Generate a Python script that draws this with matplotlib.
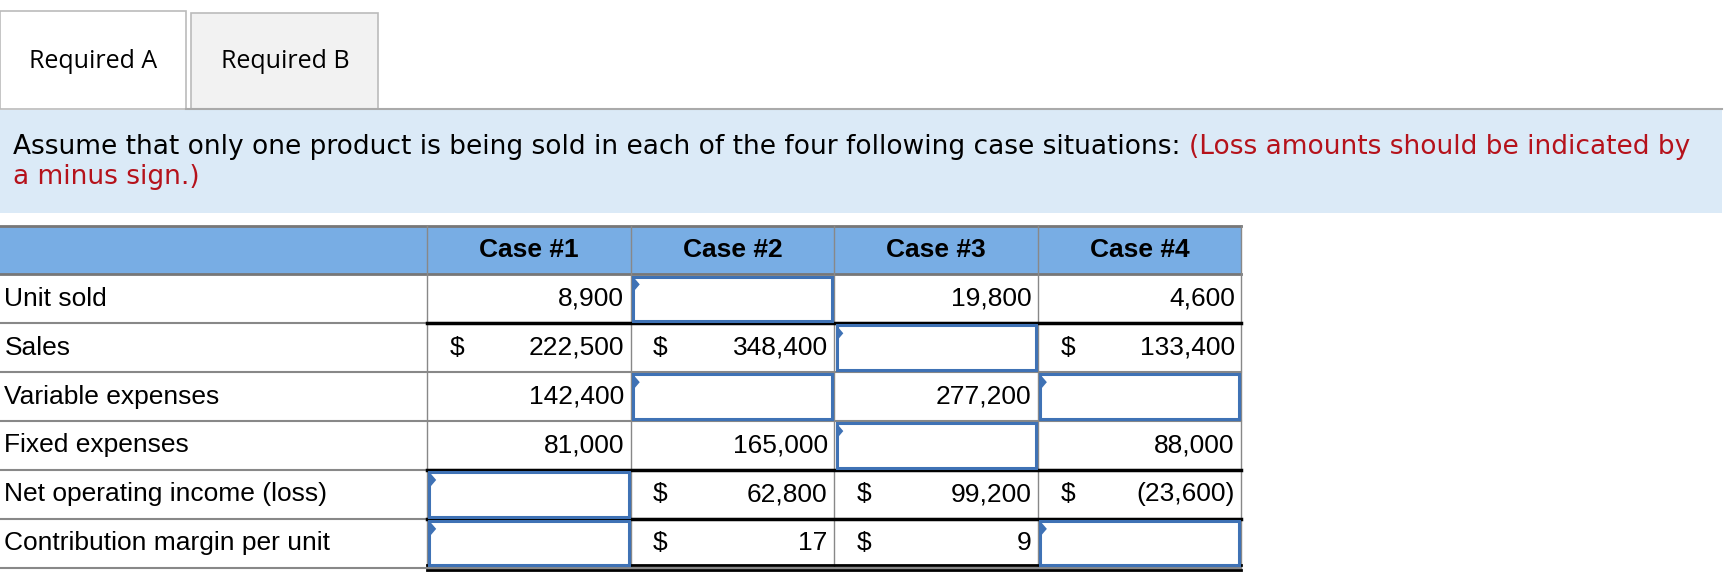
import matplotlib
matplotlib.use("Agg")
import matplotlib.pyplot as plt
from matplotlib.patches import Rectangle, Polygon

tabs = ["Required A", "Required B"]
intro_black = "Assume that only one product is being sold in each of the four following case situations: "
intro_red1 = "(Loss amounts should be indicated by"
intro_red2 = "a minus sign.)"
columns = ["Case #1", "Case #2", "Case #3", "Case #4"]
row_labels = ["Unit sold", "Sales", "Variable expenses", "Fixed expenses",
              "Net operating income (loss)", "Contribution margin per unit"]
case1 = ["8,900", "222,500", "142,400", "81,000", None, None]
case2 = [None, "348,400", None, "165,000", "62,800", "17"]
case3 = ["19,800", None, "277,200", None, "99,200", "9"]
case4 = ["4,600", "133,400", None, "88,000", "(23,600)", None]
dollar_rows = [1, 4, 5]

W, H = 1545, 518
fig = plt.figure(figsize=(17.28, 5.8), dpi=100)
ax = fig.add_axes([0, 0, 1, 1])
ax.set_xlim(0, W); ax.set_ylim(H, 0); ax.axis("off")
FONT = "Liberation Sans"
FS = 19

# tabs
ax.add_patch(Rectangle((0, 10), 166, 87, fc="white", ec="#bbbbbb", lw=1.2))
ax.add_patch(Rectangle((171, 12), 167, 85, fc="#f2f2f2", ec="#bbbbbb", lw=1.2))
ax.plot([166, 1540], [97, 97], color="#aaaaaa", lw=1.5)
for i, t in enumerate(tabs):
    ax.text([83, 255][i], 55, t, ha="center", va="center", fontsize=18, family="Open Sans")

# intro box
ax.add_patch(Rectangle((0, 98), 1540, 92, fc="#dbeaf7", ec="none"))
t1 = ax.text(12, 131, intro_black, ha="left", va="center", fontsize=19, family="DejaVu Sans")
fig.canvas.draw()
bb = t1.get_window_extent().transformed(ax.transData.inverted())
ax.text(bb.x1, 131, intro_red1, ha="left", va="center", fontsize=19, family="DejaVu Sans", color="#b5121b")
ax.text(12, 158, intro_red2, ha="left", va="center", fontsize=19, family="DejaVu Sans", color="#b5121b")

# table geometry
xs = [0, 382, 564, 746, 928, 1110]
top, hdr = 202, 245
rh = (507 - hdr) / 6
ax.add_patch(Rectangle((0, top), 1110, hdr - top, fc="#78ade4", ec="none"))
ax.plot([0, 1110], [top, top], color="#777777", lw=2)
ax.plot([0, 1110], [hdr, hdr], color="#777777", lw=2)
for j, c in enumerate(columns):
    ax.text((xs[j + 1] + xs[j + 2]) / 2, (top + hdr) / 2, c, ha="center", va="center",
            fontsize=FS, family=FONT, fontweight="bold")
for x in xs[1:]:
    ax.plot([x, x], [top, 507], color="#888888", lw=1)

cases = [case1, case2, case3, case4]
for r, lab in enumerate(row_labels):
    y0 = hdr + r * rh
    ym = y0 + rh / 2
    ax.plot([0, 1110], [y0 + rh, y0 + rh], color="#888888", lw=1.5)
    ax.text(4, ym, lab, ha="left", va="center", fontsize=FS, family=FONT)
    for j, col in enumerate(cases):
        x0, x1 = xs[j + 1], xs[j + 2]
        v = col[r]
        if v is None:
            ax.add_patch(Rectangle((x0 + 2, y0 + 2), x1 - x0 - 4, rh - 4, fc="white",
                                   ec="#3f72b5", lw=2.2, zorder=3))
            ax.add_patch(Polygon([[x0 + 2, y0 + 2], [x0 + 8, y0 + 9], [x0 + 2, y0 + 16]],
                                 closed=True, fc="#3f72b5", ec="none", zorder=4))
        else:
            ax.text(x1 - 6, ym, v, ha="right", va="center", fontsize=FS, family=FONT)
            if r in dollar_rows:
                ax.text(x0 + 20, ym, "$", ha="left", va="center", fontsize=FS, family=FONT)

# thick black rules in value columns
for y in [hdr + rh, hdr + 4 * rh, hdr + 5 * rh]:
    ax.plot([382, 1110], [y, y], color="black", lw=2.5, zorder=2)
ax.plot([382, 1110], [505, 505], color="black", lw=2)
ax.plot([382, 1110], [509.5, 509.5], color="black", lw=2)

fig.savefig("out.png", dpi=100)
